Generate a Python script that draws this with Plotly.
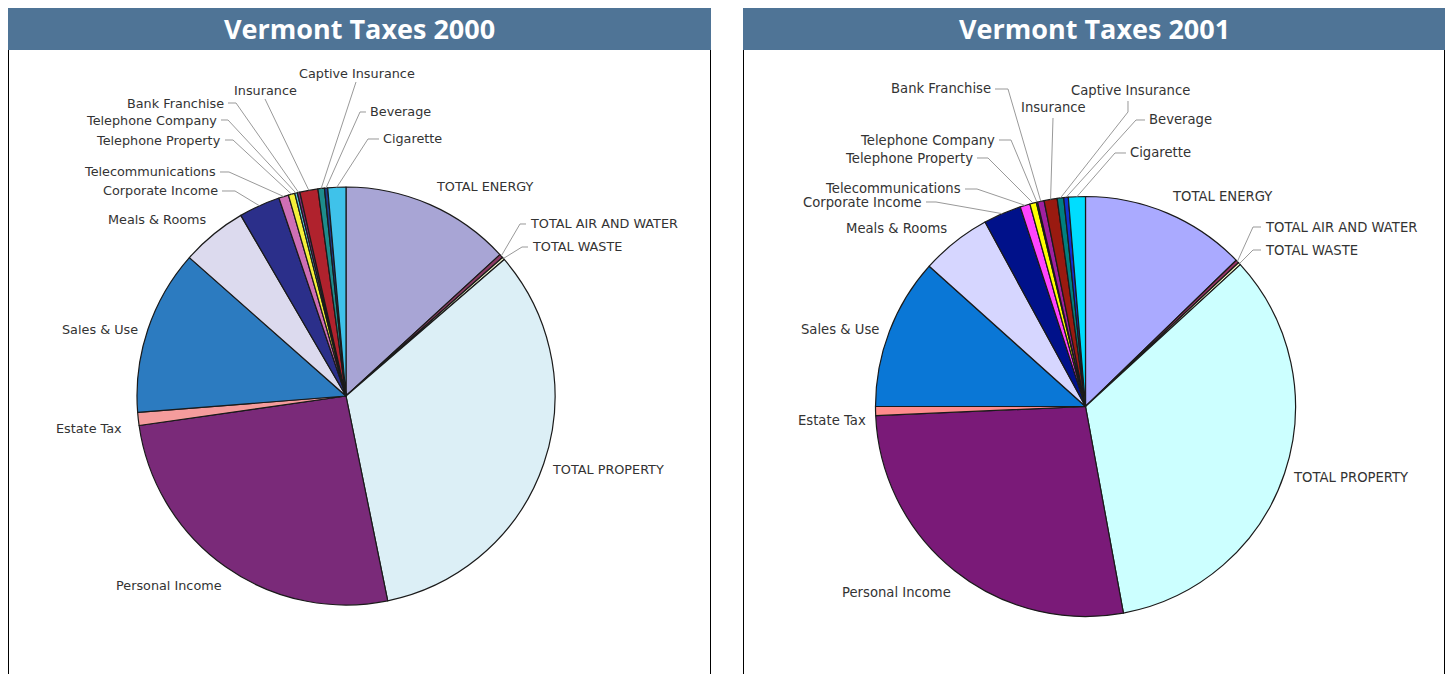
import math
import plotly.graph_objects as go

W, H = 1450, 674

categories = [
    "TOTAL ENERGY", "TOTAL AIR AND WATER", "TOTAL WASTE", "TOTAL PROPERTY",
    "Personal Income", "Estate Tax", "Sales & Use", "Meals & Rooms",
    "Corporate Income", "Telecommunications", "Telephone Property",
    "Telephone Company", "Bank Franchise", "Insurance", "Captive Insurance",
    "Beverage", "Cigarette",
]
# share of total tax revenue (%)
values_2000 = [13.2, 0.3, 0.2, 33.2, 26.0, 1.0, 12.8, 5.1,
               3.2, 0.76, 0.5, 0.2, 0.2, 1.4, 0.5, 0.25, 1.4]
values_2001 = [12.7, 0.25, 0.2, 33.8, 27.1, 0.7, 11.6, 5.4,
               2.9, 0.76, 0.5, 0.1, 0.5, 1.0, 0.5, 0.35, 1.3]

colors_2000 = ["#A8A5D5", "#8B3A62", "#FAFAD2", "#DCEFF6", "#7A2A79", "#F59C9C",
               "#2C7BC0", "#DCDAEE", "#2B2F8A", "#CF6FB5", "#F4F03A", "#5BC6D6",
               "#7A2A79", "#B0222D", "#1E8C8C", "#1C3C8C", "#3FC2EA"]
colors_2001 = ["#AAAAFF", "#993366", "#FFFFCC", "#CCFFFF", "#7A1A78", "#FF8C8C",
               "#0A77D6", "#D6D6FF", "#00118A", "#FF44FF", "#FFFF00", "#00FFFF",
               "#A020A0", "#9A1A10", "#008080", "#1030D0", "#00DDFF"]

# label placement in pixels: (x, y, xanchor, leader end, leader elbow)
labels_2000 = {
    "TOTAL ENERGY": (485, 187, "center", None, None),
    "TOTAL AIR AND WATER": (528, 224, "left", (526, 224), (520, 224)),
    "TOTAL WASTE": (530, 247, "left", (528, 247), (522, 247)),
    "TOTAL PROPERTY": (608, 469, "center", None, None),
    "Personal Income": (169, 585, "center", None, None),
    "Estate Tax": (89, 428, "center", None, None),
    "Sales & Use": (100, 329, "center", None, None),
    "Meals & Rooms": (157, 219, "center", None, None),
    "Corporate Income": (220, 191, "right", (222, 191), (235, 191)),
    "Telecommunications": (218, 172, "right", (220, 172), (229, 172)),
    "Telephone Property": (223, 140, "right", (225, 140), (233, 140)),
    "Telephone Company": (219, 120, "right", (221, 120), (228, 120)),
    "Bank Franchise": (226, 103, "right", (228, 103), (236, 103)),
    "Insurance": (265, 91, "center", (265, 99), None),
    "Captive Insurance": (357, 73, "center", (356, 82), None),
    "Beverage": (368, 112, "left", (366, 112), (360, 112)),
    "Cigarette": (381, 139, "left", (379, 139), (368, 139)),
}
labels_2001 = {
    "TOTAL ENERGY": (1222, 197, "center", None, None),
    "TOTAL AIR AND WATER": (1263, 227, "left", (1261, 227), (1253, 227)),
    "TOTAL WASTE": (1263, 250, "left", (1261, 250), (1253, 250)),
    "TOTAL PROPERTY": (1351, 478, "center", None, None),
    "Personal Income": (897, 592, "center", None, None),
    "Estate Tax": (832, 420, "center", None, None),
    "Sales & Use": (840, 330, "center", None, None),
    "Meals & Rooms": (896, 228, "center", None, None),
    "Corporate Income": (924, 202, "right", (926, 202), (936, 202)),
    "Telecommunications": (963, 189, "right", (965, 189), (977, 189)),
    "Telephone Property": (975, 158, "right", (977, 158), (988, 158)),
    "Telephone Company": (997, 140, "right", (999, 140), (1011, 140)),
    "Bank Franchise": (993, 88, "right", (995, 89), (1008, 89)),
    "Insurance": (1053, 108, "center", (1053, 118), None),
    "Captive Insurance": (1130, 91, "center", (1128, 101), (1128, 112)),
    "Beverage": (1147, 119, "left", (1145, 120), (1136, 120)),
    "Cigarette": (1128, 152, "left", (1126, 153), (1115, 153)),
}

panels = [
    # title, values, colors, labels, panel x-range, pie center, radius, label font size
    ("Vermont Taxes 2000", values_2000, colors_2000, labels_2000, (8, 711), (346, 396), 209, 12.8),
    ("Vermont Taxes 2001", values_2001, colors_2001, labels_2001, (743, 1445), (1085.5, 406.5), 210, 13.2),
]


def px(x, y):
    return x / W, 1 - y / H


fig = go.Figure()
shapes, annotations = [], []

for title, vals, cols, labs, (x0, x1), (cx, cy), r, fs in panels:
    fig.add_trace(go.Pie(
        labels=categories, values=vals, sort=False, direction="clockwise",
        rotation=0, textinfo="none", hole=0,
        marker=dict(colors=cols, line=dict(color="#1a1a1a", width=1.2)),
        domain=dict(x=[(cx - r) / W, (cx + r) / W],
                    y=[1 - (cy + r) / H, 1 - (cy - r) / H]),
        showlegend=False,
    ))

    # header bar + frame
    shapes.append(dict(type="rect", xref="paper", yref="paper",
                       x0=x0 / W, x1=x1 / W, y0=1 - 50 / H, y1=1 - 8 / H,
                       fillcolor="#4F7496", line=dict(width=0), layer="below"))
    for xe in (x0 + 0.5, x1 - 0.5):
        shapes.append(dict(type="line", xref="paper", yref="paper",
                           x0=xe / W, x1=xe / W, y0=0, y1=1 - 50 / H,
                           line=dict(color="#000", width=1)))
    annotations.append(dict(x=(x0 + x1) / 2 / W, y=1 - 29 / H, xref="paper", yref="paper",
                            text="<b>%s</b>" % title, showarrow=False,
                            xanchor="center", yanchor="middle",
                            font=dict(family="Open Sans", size=27, color="white")))

    total = sum(vals)
    cum = 0.0
    for cat, v in zip(categories, vals):
        mid = math.radians((cum + v / 2) / total * 360)
        cum += v
        lx, ly, xa, end, elbow = labs[cat]
        annotations.append(dict(x=lx / W, y=1 - ly / H, xref="paper", yref="paper",
                                text=cat, showarrow=False, xanchor=xa, yanchor="middle",
                                font=dict(family="DejaVu Sans", size=fs, color="#333")))
        if end is None:
            continue
        ax, ay = cx + r * math.sin(mid), cy - r * math.cos(mid)
        pts = [(ax, ay)] + ([elbow] if elbow else []) + [end]
        path = "M " + " L ".join("%.5f %.5f" % px(*p) for p in pts)
        shapes.append(dict(type="path", xref="paper", yref="paper", path=path,
                           line=dict(color="#999", width=1)))

fig.update_layout(width=W, height=H, margin=dict(l=0, r=0, t=0, b=0),
                  paper_bgcolor="white", plot_bgcolor="white",
                  shapes=shapes, annotations=annotations)

# drop the default 8px body margin so the figure sits flush in the window
fig.write_html("out.html", config={"displayModeBar": False},
               post_script="document.body.style.margin='0';")
